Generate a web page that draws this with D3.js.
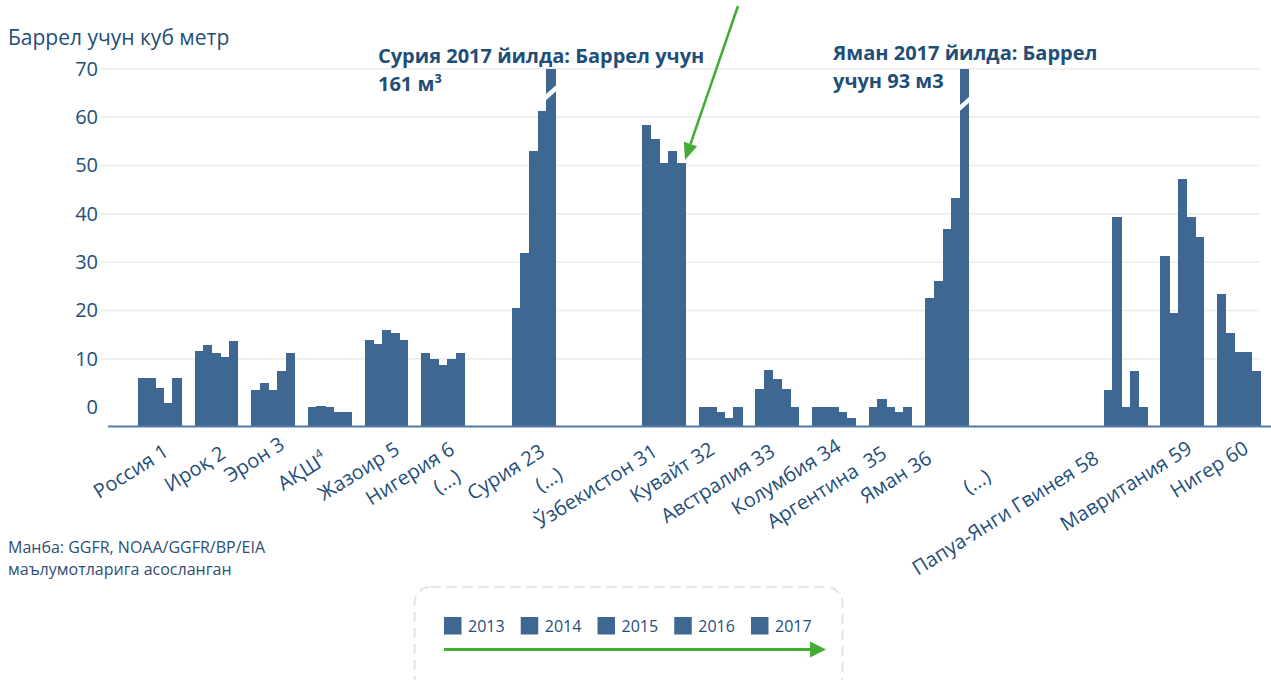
<!DOCTYPE html>
<html>
<head>
<meta charset="utf-8">
<script src="https://cdn.jsdelivr.net/npm/d3@7"></script>
<style>
  html, body { margin: 0; padding: 0; background: #ffffff; }
  svg { display: block; font-family: "Open Sans", "Noto Sans", sans-serif; }
</style>
</head>
<body>
<svg id="chart" width="1271" height="680"></svg>
<script>
// Gas flaring intensity, cubic metres per barrel, 2013–2017, by country (rank)
const countries = ["Россия 1", "Ироқ 2", "Эрон 3", "АҚШ", "Жазоир 5", "Нигерия 6",
  "Сурия 23", "Ўзбекистон 31", "Кувайт 32", "Австралия 33", "Колумбия 34",
  "Аргентина  35", "Яман 36", "Папуа-Янги Гвинея 58", "Мавритания 59", "Нигер 60"];
const years = ["2013", "2014", "2015", "2016", "2017"];
const v2013 = [6.0, 11.7, 3.6, 0.0, 13.9, 11.2, 20.6, 58.4, 0.0, 3.8, 0.0, 0.0, 22.5, 3.6, 31.3, 23.5];
const v2014 = [6.0, 12.9, 5.0, 0.2, 13.1, 10.0, 32.0, 55.5, 0.0, 7.7, 0.0, 1.7, 26.2, 39.3, 19.5, 15.4];
const v2015 = [3.9, 11.2, 3.6, 0.0, 16.0, 8.8, 52.9, 50.6, -1.0, 5.9, 0.0, 0.0, 36.9, 0.0, 47.3, 11.4];
const v2016 = [0.9, 10.4, 7.5, -1.0, 15.4, 10.0, 61.2, 53.1, -2.3, 3.8, -1.0, -1.0, 43.3, 7.5, 39.3, 11.4];
const v2017 = [6.0, 13.7, 11.2, -1.0, 13.9, 11.2, 161, 50.6, 0.0, 0.0, -2.3, 0.0, 93, 0.0, 35.3, 7.5];
const yTicks = [0, 10, 20, 30, 40, 50, 60, 70];
const ellipsisAfter = [5, 6, 12]; // "(...)" marks skipped ranks after these countries

const series = [v2013, v2014, v2015, v2016, v2017];

// ---- layout ----
const colBar = "#3e6892";
const colText = "#1f4e79";
const colGreen = "#41ad33";
const groupStep = [0, 1, 1, 1, 1, 1, 1.6, 2.3, 1, 1, 1, 1, 1, 3.15, 1, 1];
const labelNudge = [[10.5, 0], [10.7, 2], [13.2, -7], [-0.8, 8], [14.8, -2], [13.3, -2], [12.8, 0],
  [-4.7, 0], [-4.3, -2], [-0.5, 0], [8.7, -5], [-2, 2], [-13.8, 7], [-25.3, 7], [11.5, -3], [11.3, -3]];
const ellipsisNudge = [[-26, 25], [-34.5, 23], [-44, 25]];
const breakLevel = { "Сурия 23": 65, "Яман 36": 62.7 };

const slots = d3.cumsum(groupStep);
const svg = d3.select("#chart");

const x = d3.scaleLinear().domain([0, slots[slots.length - 1]]).range([159.5, 1238.7]);
const inner = d3.scaleBand().domain(years).range([-21.6, 21.6]).padding(0);
const yMin = -4, yMax = 70;
const y = d3.scaleLinear().domain([yMin, yMax]).range([426.6, 68.8]);

// gridlines
svg.append("g").selectAll("line")
  .data(yTicks.filter(t => t > 0))
  .join("line")
  .attr("x1", 100).attr("x2", 1260)
  .attr("y1", d => y(d)).attr("y2", d => y(d))
  .attr("stroke", "#ececec").attr("stroke-width", 1.6);

// y axis labels
const yAxis = svg.append("g").attr("transform", "translate(98,0)")
  .call(d3.axisLeft(y).tickValues(yTicks).tickSize(0).tickPadding(0));
yAxis.select(".domain").remove();
yAxis.selectAll("text")
  .attr("fill", colText).attr("font-size", 20)
  .attr("font-family", "'Open Sans', sans-serif");

// bars
const bars = [];
countries.forEach((c, i) => {
  years.forEach((yr, j) => bars.push({ c, i, yr, v: series[j][i] }));
});
svg.append("g").attr("shape-rendering", "crispEdges").selectAll("rect")
  .data(bars)
  .join("rect")
  .attr("x", d => x(slots[d.i]) + inner(d.yr))
  .attr("width", inner.bandwidth() + 0.6)
  .attr("y", d => y(Math.min(d.v, yMax)))
  .attr("height", d => y(yMin) - y(Math.min(d.v, yMax)))
  .attr("fill", colBar);

// axis breaks on bars that run off the scale
const capped = bars.filter(d => d.v > yMax);
svg.append("g").selectAll("line")
  .data(capped)
  .join("line")
  .attr("x1", d => x(slots[d.i]) + inner(d.yr) + inner.bandwidth() / 2 - 13)
  .attr("x2", d => x(slots[d.i]) + inner(d.yr) + inner.bandwidth() / 2 + 13)
  .attr("y1", d => y(breakLevel[d.c]) + 11.5)
  .attr("y2", d => y(breakLevel[d.c]) - 11.5)
  .attr("stroke", "#ffffff").attr("stroke-width", 4.5);

// baseline
svg.append("line")
  .attr("x1", 108).attr("x2", 1271)
  .attr("y1", y(yMin)).attr("y2", y(yMin))
  .attr("stroke", "#5579a6").attr("stroke-width", 2);

// category labels
const lab = svg.append("g").attr("fill", colText).attr("font-size", 20);
countries.forEach((c, i) => {
  const ax = x(slots[i]) + labelNudge[i][0];
  const ay = 455 + labelNudge[i][1];
  const t = lab.append("text")
    .attr("text-anchor", "end")
    .attr("xml:space", "preserve")
    .style("white-space", "pre")
    .attr("transform", `translate(${ax},${ay}) rotate(-32)`);
  if (c === "АҚШ") {
    t.append("tspan").text(c);
    t.append("tspan").attr("font-size", 12).attr("dy", -9).text("4");
  } else {
    t.text(c);
  }
});
ellipsisAfter.forEach((i, k) => {
  const ax = (x(slots[i]) + x(slots[i + 1])) / 2 + ellipsisNudge[k][0];
  const ay = 455 + ellipsisNudge[k][1];
  lab.append("text")
    .attr("text-anchor", "end")
    .attr("transform", `translate(${ax},${ay}) rotate(-32)`)
    .text("(...)");
});

// unit title
svg.append("text")
  .attr("x", 8).attr("y", 45)
  .attr("fill", colText).attr("font-size", 21)
  .text("Баррел учун куб метр");

// annotations for off-scale bars
const note = svg.append("g").attr("fill", colText).attr("font-size", 20).attr("font-weight", "bold");
note.append("text").attr("x", 378).attr("y", 63).text("Сурия 2017 йилда: Баррел учун");
note.append("text").attr("x", 378).attr("y", 91).text("161 м³");
note.append("text").attr("x", 833).attr("y", 60).text("Яман 2017 йилда: Баррел");
note.append("text").attr("x", 833).attr("y", 88).text("учун 93 м3");

// arrow helper
function arrow(g, x1, y1, x2, y2, w, headLen, headHalf) {
  const dx = x2 - x1, dy = y2 - y1, L = Math.hypot(dx, dy);
  const ux = dx / L, uy = dy / L;
  const bx = x2 - ux * headLen, by = y2 - uy * headLen;
  g.append("line").attr("x1", x1).attr("y1", y1).attr("x2", bx).attr("y2", by)
    .attr("stroke", colGreen).attr("stroke-width", w);
  g.append("polygon")
    .attr("points", [[x2, y2], [bx - uy * headHalf, by + ux * headHalf], [bx + uy * headHalf, by - ux * headHalf]].join(" "))
    .attr("fill", colGreen);
}
arrow(svg, 738, 6, 685, 160, 2.5, 17, 7);

// source note
const src = svg.append("g").attr("fill", "#2e4e74").attr("font-size", 16);
src.append("text").attr("x", 8).attr("y", 553).text("Манба: GGFR, NOAA/GGFR/BP/EIA");
src.append("text").attr("x", 8).attr("y", 575).text("маълумотларига асосланган");

// legend
const leg = svg.append("g");
leg.append("rect")
  .attr("x", 414.5).attr("y", 587).attr("width", 428).attr("height", 104).attr("rx", 16)
  .attr("fill", "none").attr("stroke", "#e4e4e4").attr("stroke-width", 2)
  .attr("stroke-dasharray", "10,6");
const lx = d3.scalePoint().domain(years).range([444, 751]);
years.forEach(yr => {
  leg.append("rect").attr("x", lx(yr)).attr("y", 617).attr("width", 17.5).attr("height", 17.5).attr("fill", colBar);
  leg.append("text").attr("x", lx(yr) + 24).attr("y", 632).attr("fill", colText).attr("font-size", 16).text(yr);
});
arrow(leg, 444, 649.5, 826, 649.5, 3, 16, 8);
</script>
</body>
</html>
